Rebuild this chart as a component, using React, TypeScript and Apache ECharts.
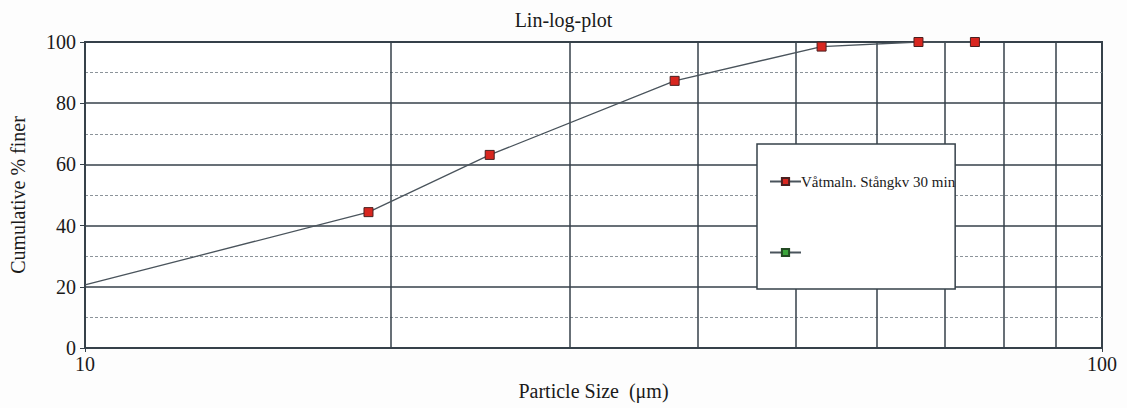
import React, { useEffect, useRef } from "react";
import * as echarts from "echarts";

const sizes = [10, 19, 25, 38, 53, 66, 75];
const finer = [20.6, 44.4, 63.1, 87.3, 98.5, 100, 100];
const verticalGrid = [20, 30, 40, 50, 60, 70, 80, 90];
const seriesName = "Våtmaln. Stångkv 30 min";
const secondName = " ";

const FONT = "Liberation Serif";
const GRID = "#36414a";

export default function App() {
  const ref = useRef<HTMLDivElement>(null);
  useEffect(() => {
    const chart = echarts.init(ref.current!, null, { renderer: "svg" });
    const mainData = sizes.map((s, i) =>
      i === 0 ? { value: [s, finer[i]], symbol: "none" } : [s, finer[i]]
    );
    chart.setOption({
      animation: false,
      backgroundColor: "#fdfdfd",
      textStyle: { fontFamily: FONT },
      title: {
        text: "Lin-log-plot",
        left: "center",
        top: 5,
        textStyle: { fontFamily: FONT, fontSize: 20, fontWeight: "normal", color: "#1a1a1a" },
      },
      grid: {
        left: 82,
        right: 25,
        top: 42,
        bottom: 60,
        show: true,
        borderColor: GRID,
        borderWidth: 2,
        backgroundColor: "#fff",
      },
      legend: {
        orient: "vertical",
        left: 757,
        top: 144,
        padding: [30, 0, 29, 12],
        itemGap: 56,
        itemWidth: 31,
        itemHeight: 9,
        backgroundColor: "#fff",
        borderColor: GRID,
        borderWidth: 1.5,
        borderRadius: 0,
        data: [seriesName, secondName],
        textStyle: { fontFamily: FONT, fontSize: 15, color: "#1a1a1a", padding: [0, 0, 0, -5] },
      },
      xAxis: {
        type: "log",
        logBase: 10,
        min: 10,
        max: 100,
        name: "Particle Size  (μm)",
        nameLocation: "middle",
        nameGap: 33,
        nameTextStyle: { fontFamily: FONT, fontSize: 20, color: "#1a1a1a" },
        axisLine: { show: true, lineStyle: { color: GRID, width: 2 } },
        axisTick: { show: true, length: 4, lineStyle: { color: GRID } },
        axisLabel: { fontFamily: FONT, fontSize: 20, color: "#1a1a1a", margin: 6 },
        splitLine: { show: false },
      },
      yAxis: {
        type: "value",
        min: 0,
        max: 100,
        interval: 20,
        name: "Cumulative % finer",
        nameLocation: "middle",
        nameGap: 57,
        nameRotate: 90,
        nameTextStyle: { fontFamily: FONT, fontSize: 20, color: "#1a1a1a" },
        axisLine: { show: true, lineStyle: { color: GRID, width: 2 } },
        axisTick: { show: true, length: 5, lineStyle: { color: GRID } },
        axisLabel: { fontFamily: FONT, fontSize: 20, color: "#1a1a1a", margin: 9 },
        splitLine: { show: true, lineStyle: { color: GRID, width: 1.5 } },
        minorTick: { show: false, splitNumber: 2 },
        minorSplitLine: { show: true, lineStyle: { color: "#8c949a", width: 1, type: [3, 2] } },
      },
      series: [
        {
          name: seriesName,
          type: "line",
          data: mainData,
          symbol: "rect",
          symbolSize: 9,
          z: 5,
          lineStyle: { color: "#4a545c", width: 1.3 },
          itemStyle: { color: "#d8261f", borderColor: "#4a2020", borderWidth: 1 },
          markLine: {
            silent: true,
            symbol: "none",
            z: 1,
            label: { show: false },
            lineStyle: { color: GRID, width: 1.5, type: "solid" },
            data: verticalGrid.map((v) => ({ xAxis: v })),
          },
        },
        {
          name: secondName,
          type: "line",
          data: [],
          symbol: "rect",
          symbolSize: 9,
          lineStyle: { color: "#4a545c", width: 1.3 },
          itemStyle: { color: "#3aa53a", borderColor: "#234a23", borderWidth: 1 },
        },
      ],
    });
    return () => chart.dispose();
  }, []);
  return (
    <div
      ref={ref}
      style={{ position: "fixed", left: 0, top: 0, width: 1127, height: 408 }}
    />
  );
}
